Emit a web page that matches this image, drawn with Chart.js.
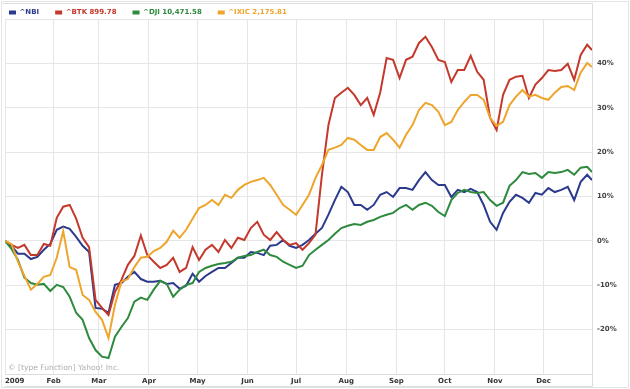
<!DOCTYPE html>
<html><head><meta charset="utf-8">
<script src="https://cdn.jsdelivr.net/npm/chart.js@4.4.1/dist/chart.umd.min.js"></script>
<style>html,body{margin:0;padding:0;background:#fff}#wrap{position:relative;width:630px;height:389px}canvas{display:block}</style>
</head><body><div id="wrap"><canvas id="c" width="630" height="389"></canvas></div>
<script>
// day of year (Jan 1 = 0) for each sample
const days = [1,5,9,13,17,21,25,29,33,37,41,45,49,53,57,61,65,69,73,77,81,85,89,93,97,101,105,109,113,117,121,125,129,133,137,141,145,149,153,157,161,165,169,173,177,181,185,189,193,197,201,205,209,213,217,221,225,229,233,237,241,245,249,253,257,261,265,269,273,277,281,285,289,293,297,301,305,309,313,317,321,325,329,333,337,341,345,349,353,357,361,364];
const seriesNames = ['^NBI','^BTK 899.78','^DJI 10,471.58','^IXIC 2,175.81'];
const nbi = [0,-1.1,-2.9,-2.9,-4.1,-3.6,-2.0,-0.7,2.5,3.2,2.7,0.9,-1.1,-2.5,-15.1,-15.3,-16.2,-9.9,-9.5,-8.1,-7.0,-8.6,-9.2,-9.2,-9.0,-9.7,-9.5,-10.8,-10.1,-7.4,-9.2,-7.9,-7.0,-6.1,-6.1,-5.0,-3.8,-3.8,-2.5,-2.7,-3.2,-1.1,-0.9,0.2,-1.1,-1.6,-0.9,0.2,1.6,2.9,5.9,9.2,12.2,11.0,8.1,8.1,7.0,8.1,10.4,11.0,9.9,11.9,11.9,11.5,13.7,15.5,13.7,12.6,12.6,9.9,11.5,11.0,11.7,11.0,8.1,4.3,2.5,6.3,8.8,10.4,9.7,8.6,10.8,10.4,11.9,11.0,11.5,12.2,9.2,13.3,14.9,13.7];
const btk = [0,-0.9,-1.6,-0.9,-3.2,-3.2,-0.7,-1.1,5.2,7.7,8.1,5.0,0.7,-1.4,-13.3,-15.1,-16.7,-11.5,-8.8,-5.4,-3.4,1.2,-3.2,-4.7,-6.1,-5.4,-3.8,-7.0,-6.1,-1.4,-4.3,-2.0,-0.9,-2.5,0.2,-1.6,0.7,0.2,2.9,4.3,1.4,0.2,2.0,0.2,-0.9,-0.5,-2.0,-0.5,1.4,14.9,26.1,32.2,33.4,34.5,32.9,30.6,32.2,28.4,33.4,41.2,40.8,36.7,40.8,41.5,44.6,46.0,43.7,40.8,40.3,35.8,38.5,38.5,41.7,38.1,36.3,27.7,25.0,32.9,36.3,37.0,37.2,32.2,35.2,36.7,38.5,38.3,38.5,39.9,36.3,41.9,44.2,43.0];
const dji = [0,-1.8,-4.3,-8.3,-9.5,-9.9,-9.7,-11.3,-9.9,-10.4,-12.6,-16.2,-17.8,-21.9,-24.6,-26.1,-26.4,-21.6,-19.4,-17.4,-13.7,-12.8,-13.3,-11.0,-9.0,-9.7,-12.6,-11.0,-9.9,-9.5,-7.0,-6.1,-5.6,-5.2,-5.0,-4.7,-3.8,-3.4,-3.2,-2.5,-2.0,-3.2,-3.6,-4.7,-5.4,-6.1,-5.6,-3.2,-2.0,-0.9,0.2,1.6,2.9,3.4,3.8,3.6,4.3,4.7,5.4,5.9,6.3,7.4,8.1,7.0,8.1,8.6,7.9,6.5,5.6,9.2,10.8,11.5,11.0,10.8,11.0,9.2,7.9,8.6,12.4,13.7,15.5,15.1,15.3,14.2,15.5,15.3,15.5,16.0,14.9,16.5,16.7,15.5];
const ixic = [0,-0.7,-4.7,-7.9,-11.0,-9.7,-8.1,-7.7,-3.8,2.2,-5.9,-6.5,-12.2,-13.3,-16.0,-17.8,-21.9,-14.4,-9.2,-8.6,-5.9,-3.8,-3.6,-2.3,-1.6,-0.2,2.3,0.7,2.5,5.0,7.4,8.1,9.2,8.1,10.4,9.7,11.5,12.6,13.3,13.7,14.2,12.6,10.4,8.1,7.0,5.9,8.1,10.4,14.2,17.1,20.5,21.0,21.6,23.2,22.8,21.6,20.5,20.5,23.4,24.3,22.8,21.0,23.9,26.1,29.5,31.1,30.6,29.1,26.1,26.8,29.5,31.3,32.9,32.9,31.8,27.7,25.9,26.8,30.6,32.5,34.0,32.5,32.9,32.2,31.8,33.4,34.7,34.9,34.0,37.9,40.1,39.2];
const monthDays = [1,31,59,90,120,151,181,212,243,273,304,334,364];
const monthLabels = ['2009','Feb','Mar','Apr','May','Jun','Jul','Aug','Sep','Oct','Nov','Dec',''];
const yMin = -30, yMax = 50, yStep = 10;
const colors = ['#2b3a8c','#c4392b','#2e8a3d','#eea52c'];

const FONT = 'DejaVu Sans';
const values = [nbi, btk, dji, ixic];

const decor = {
  id: 'decor',
  afterLayout(chart) {
    const l = chart.legend;
    l.left = -7; l.top = -7;
  },
  beforeDraw(chart) {
    const {ctx} = chart;
    ctx.save(); ctx.fillStyle = '#fff'; ctx.fillRect(0,0,chart.width,chart.height); ctx.restore();
  },
  afterDraw(chart) {
    const {ctx, chartArea: a} = chart;
    ctx.save();
    ctx.strokeStyle = '#dcdcdc'; ctx.lineWidth = 1;
    ctx.beginPath();
    ctx.moveTo(a.left, a.bottom + 12.5); ctx.lineTo(a.right + 0.5, a.bottom + 12.5);
    ctx.moveTo(a.right + 0.5, 3.5); ctx.lineTo(a.right + 0.5, a.bottom + 12.5);
    ctx.moveTo(2.5, 3.5); ctx.lineTo(a.right + 0.5, 3.5);
    ctx.stroke();
    ctx.strokeStyle = '#e4e4e4';
    ctx.strokeRect(1.5, 1.5, chart.width - 3, chart.height - 3);
    ctx.fillStyle = '#b0b0b0';
    ctx.font = '7.6px ' + FONT;
    ctx.textBaseline = 'alphabetic';
    ctx.fillText('\u00a9 [type Function] Yahoo! Inc.', a.left + 3, a.bottom - 4);
    ctx.restore();
  }
};

new Chart(document.getElementById('c'), {
  type: 'line',
  data: {
    datasets: seriesNames.map((name, k) => ({
      label: name,
      data: days.map((d, i) => ({x: d, y: values[k][i]})),
      borderColor: colors[k],
      backgroundColor: colors[k],
      borderWidth: 2,
      pointRadius: 0,
      tension: 0,
      order: 3 - k
    }))
  },
  options: {
    responsive: false,
    animation: false,
    devicePixelRatio: 1,
    layout: {padding: 0},
    plugins: {
      tooltip: {enabled: false},
      legend: {
        position: 'top', align: 'start', maxHeight: 19,
        labels: {
          boxWidth: 7, boxHeight: 4, padding: 16,
          font: {family: FONT, size: 7, weight: 'bold'},
          generateLabels(chart) {
            return seriesNames.map((n, k) => ({
              text: n, fillStyle: colors[k], strokeStyle: colors[k], fontColor: colors[k],
              lineWidth: 0, hidden: false, datasetIndex: k
            }));
          }
        }
      }
    },
    scales: {
      x: {
        type: 'linear', min: monthDays[0], max: monthDays[monthDays.length - 1],
        afterBuildTicks(scale) { scale.ticks = monthDays.map(v => ({value: v})); },
        afterFit(scale) { scale.height = 15; scale.paddingLeft = 5; scale.paddingRight = 0; },
        grid: {color: '#e6e6e6', drawTicks: false},
        border: {color: '#dcdcdc'},
        ticks: {
          autoSkip: false, maxRotation: 0, align: 'inner', padding: 3,
          color: '#333', font: {family: FONT, size: 7, weight: 'bold'},
          callback: (v, i) => monthLabels[i]
        }
      },
      y: {
        position: 'right', min: yMin, max: yMax,
        afterFit(scale) { scale.width = 38; },
        grid: {color: '#e6e6e6', drawTicks: false},
        border: {color: '#dcdcdc'},
        ticks: {
          stepSize: yStep, padding: 5, color: '#444',
          font: {family: FONT, size: 7, weight: 'bold'},
          callback: v => (v <= yMin || v >= yMax) ? '' : v + '%'
        }
      }
    }
  },
  plugins: [decor]
});
</script></body></html>
